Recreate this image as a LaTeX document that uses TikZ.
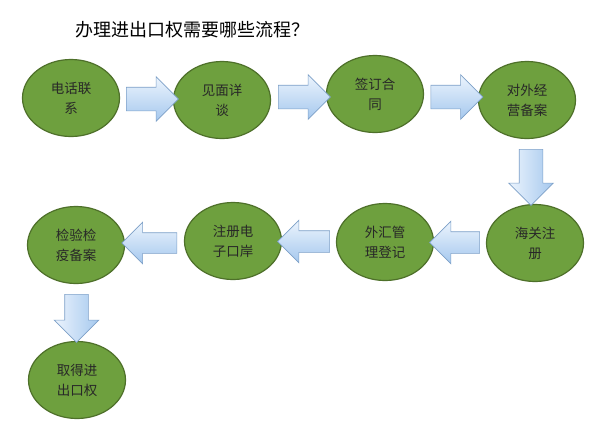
\documentclass[tikz,border=0pt]{standalone}
\usepackage{fontspec}
\newfontfamily\cjk{Noto Sans CJK SC}
\usetikzlibrary{shapes.geometric,shapes.arrows,calc}
\definecolor{stepgreen}{RGB}{110,160,62}
\definecolor{stepborder}{RGB}{78,112,42}
\definecolor{steptext}{RGB}{40,40,40}
\definecolor{arrowlight}{RGB}{236,244,253}
\definecolor{arrowblue}{RGB}{165,200,238}
\definecolor{arrowborder}{RGB}{125,160,200}

\begin{document}
\begin{tikzpicture}[x=1pt,y=-1pt,
    stepnode/.style={ellipse, draw=stepborder, line width=1.2pt, fill=stepgreen, minimum width=97pt, minimum height=77pt, inner sep=0pt, align=center, text=steptext, font=\cjk\fontsize{13.5}{20}\selectfont},
    blockarrow/.style={single arrow, draw=arrowborder, line width=0.6pt, inner xsep=0pt, inner ysep=11.5pt, single arrow head extend=10.5pt, minimum height=52pt},
    harrow/.style={blockarrow, top color=arrowlight, bottom color=arrowblue},
    varrow/.style={blockarrow, inner xsep=11.5pt, inner ysep=0pt, left color=arrowlight, right color=arrowblue, shape border rotate=270}]
    \useasboundingbox[fill=white] (0,0) rectangle (616,447);
    \node[font=\cjk\fontsize{18}{20}\selectfont, text=black] (title) at (192,30) {办理进出口权需要哪些流程？}; % title
    % first row
    \node[stepnode] (phone) at (71,98) {电话联\\系};
    \node[stepnode] (meet) at (222,100) {见面详\\谈};
    \node[stepnode] (sign) at (375,94) {签订合\\同};
    \node[stepnode] (record) at (527,100) {对外经\\营备案};
    % second row
    \node[stepnode] (customs) at (535,243) {海关注\\册};
    \node[stepnode] (forex) at (385,242) {外汇管\\理登记};
    \node[stepnode] (port) at (233,241) {注册电\\子口岸};
    \node[stepnode] (inspect) at (76,245) {检验检\\疫备案};
    % last step
    \node[stepnode] (right) at (77,380) {取得进\\出口权};
    % arrows between the steps
    \node[harrow] (a1) at ($(phone.east)!0.5!(meet.west)$) {};
    \node[harrow] (a2) at ($(meet.east)!0.5!(sign.west)$) {};
    \node[harrow] (a3) at ($(sign.east)!0.5!(record.west)$) {};
    \node[varrow, minimum height=56pt] (a4) at ($(record.south)!0.5!(customs.north)$) {};
    \node[harrow, shape border rotate=180, inner ysep=10.5pt, minimum height=50pt] (a5) at ($(customs.west)!0.5!(forex.east)$) {};
    \node[harrow, shape border rotate=180, inner ysep=10.5pt] (a6) at ($(forex.west)!0.5!(port.east)$) {};
    \node[harrow, shape border rotate=180, inner ysep=10pt, minimum height=55pt] (a7) at ($(port.west)!0.5!(inspect.east)$) {};
    \node[varrow, minimum height=48pt] (a8) at ($(inspect.south)!0.5!(right.north)$) {};
\end{tikzpicture}
\end{document}
